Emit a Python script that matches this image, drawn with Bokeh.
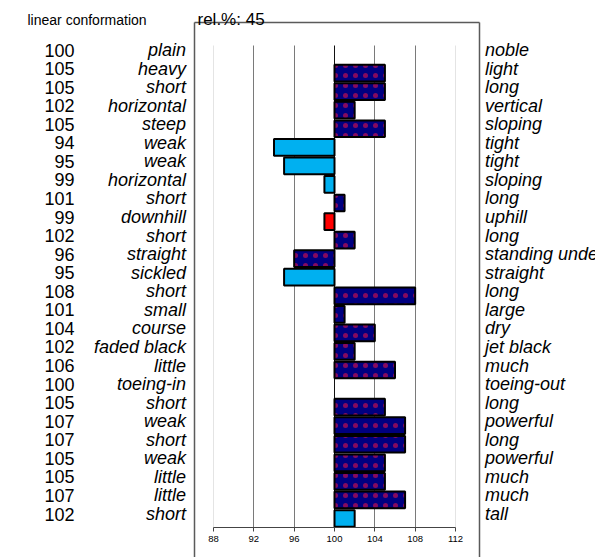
from bokeh.plotting import figure
from bokeh.models import LinearAxis, FixedTicker, Grid, Label, ColumnDataSource, Range1d
from bokeh.embed import file_html
from bokeh.resources import INLINE

# ---------------- data ----------------
chart_title = "linear conformation"
rel_text = "rel.%:  45"
scores = [100, 105, 105, 102, 105, 94, 95, 99, 101, 99, 102, 96, 95,
          108, 101, 104, 102, 106, 100, 105, 107, 107, 105, 105, 107, 102]
left_terms = ["plain", "heavy", "short", "horizontal", "steep", "weak", "weak",
              "horizontal", "short", "downhill", "short", "straight", "sickled",
              "short", "small", "course", "faded black", "little", "toeing-in",
              "short", "weak", "short", "weak", "little", "little", "short"]
right_terms = ["noble", "light", "long", "vertical", "sloping", "tight", "tight",
               "sloping", "long", "uphill", "long", "standing under", "straight",
               "long", "large", "dry", "jet black", "much", "toeing-out", "long",
               "powerful", "long", "powerful", "much", "much", "tall"]
bar_groups = ["none", "dark", "dark", "dark", "dark", "light", "light", "light",
              "dark", "red", "dark", "dark", "light", "dark", "dark", "dark",
              "dark", "dark", "none", "dark", "dark", "dark", "dark", "dark",
              "dark", "light"]
x_ticks = [88, 92, 96, 100, 104, 108, 112]
baseline = 100

# ---------------- styling / geometry (screen pixels) ----------------
FONT = "Liberation Sans"
group_fill = {"none": "white", "dark": "#000080", "light": "#00B0F0", "red": "#FF0000"}
group_hatch = {"none": " ", "dark": ".", "light": " ", "red": " "}

W, H = 595, 557
k = (455 - 213) / (x_ticks[-1] - x_ticks[0])      # px per unit


def X(s):
    return x_ticks[0] + (s - 213) / k


row_px = 18.56


def Y(s):
    return (s - 49.5) / row_px


bar_shift = 4.5 / row_px
BORDER = "#5a5a5a"

n = len(scores)
rows = list(range(n))
src = ColumnDataSource(dict(
    y=[i + bar_shift for i in rows],
    score=scores,
    color=[group_fill[g] for g in bar_groups],
    hatch=[group_hatch[g] for g in bar_groups],
    lalpha=[0.0 if g == "none" else 1.0 for g in bar_groups],
))

p = figure(width=W, height=H, output_backend="svg", toolbar_location=None,
           x_range=Range1d(X(0), X(W)), y_range=Range1d(Y(H), Y(0)),
           x_axis_location=None, y_axis_location=None,
           min_border=0, outline_line_color=None,
           background_fill_color="white", border_fill_color="white")
p.xgrid.grid_line_color = None
p.ygrid.grid_line_color = None

# vertical grid lines
cb = (Y(45), Y(527))
for ticks, col in (([88, 112], "#e4e4e4"), ([92, 96, 104, 108], "#7a7a7a"), ([100], "#111111")):
    p.add_layout(Grid(dimension=0, ticker=FixedTicker(ticks=ticks),
                      grid_line_color=col, grid_line_width=1, cross_bounds=cb))

p.hbar(y="y", left=baseline, right="score", height=0.9, source=src,
       fill_color="color", line_color="black", line_width=2, line_alpha="lalpha",
       hatch_pattern="hatch", hatch_color="#e0104a", hatch_alpha=0.6,
       hatch_scale=10, hatch_weight=0.1)

box_left, box_right, box_top = X(193.5), X(478.5), Y(21.5)
side_bounds = (Y(H), Y(21.5))

words_axis = LinearAxis(fixed_location=box_left, bounds=side_bounds,
                        ticker=FixedTicker(ticks=rows),
                        major_label_overrides={i: t for i, t in enumerate(left_terms)},
                        axis_line_color=BORDER, axis_line_width=1.5,
                        major_tick_line_color=None, minor_tick_line_color=None,
                        major_label_standoff=2, major_label_text_font=FONT,
                        major_label_text_font_style="italic",
                        major_label_text_font_size="18px",
                        major_label_text_color="black")
p.add_layout(words_axis, "left")

nums_axis = LinearAxis(fixed_location=X(85), ticker=FixedTicker(ticks=rows),
                       major_label_overrides={i: str(s) for i, s in enumerate(scores)},
                       axis_line_color=None, major_tick_line_color=None,
                       minor_tick_line_color=None, major_label_standoff=5,
                       major_label_text_font=FONT, major_label_text_font_size="18px",
                       major_label_text_color="black")
p.add_layout(nums_axis, "left")

right_axis = LinearAxis(fixed_location=box_right, bounds=side_bounds,
                        ticker=FixedTicker(ticks=rows),
                        major_label_overrides={i: t for i, t in enumerate(right_terms)},
                        axis_line_color=BORDER, axis_line_width=1.5,
                        major_tick_line_color=None, minor_tick_line_color=None,
                        major_label_standoff=0, major_label_text_font=FONT,
                        major_label_text_font_style="italic",
                        major_label_text_font_size="18px",
                        major_label_text_color="black")
p.add_layout(right_axis, "right")

top_axis = LinearAxis(fixed_location=box_top, bounds=(box_left, box_right),
                      ticker=FixedTicker(ticks=[]),
                      axis_line_color=BORDER, axis_line_width=1.5,
                      major_tick_line_color=None, minor_tick_line_color=None,
                      major_label_text_font_size="0px")
p.add_layout(top_axis, "above")

x_axis = LinearAxis(fixed_location=Y(527), bounds=(x_ticks[0], x_ticks[-1]),
                    ticker=FixedTicker(ticks=x_ticks),
                    axis_line_color="#444444", axis_line_width=1,
                    major_tick_line_color="#444444", major_tick_in=0, major_tick_out=4,
                    minor_tick_line_color=None, major_label_standoff=4,
                    major_label_text_font=FONT, major_label_text_font_size="9.5px",
                    major_label_text_color="black")
p.add_layout(x_axis, "below")

p.add_layout(Label(x=X(197), y=Y(19), text=rel_text, text_font=FONT,
                   text_font_size="17px", text_color="black",
                   text_baseline="alphabetic"))
p.add_layout(Label(x=X(27), y=Y(19), text=chart_title, text_font=FONT,
                   text_font_size="14px", text_color="black",
                   text_baseline="alphabetic"))

open("out.html", "w").write(file_html(p, INLINE))
